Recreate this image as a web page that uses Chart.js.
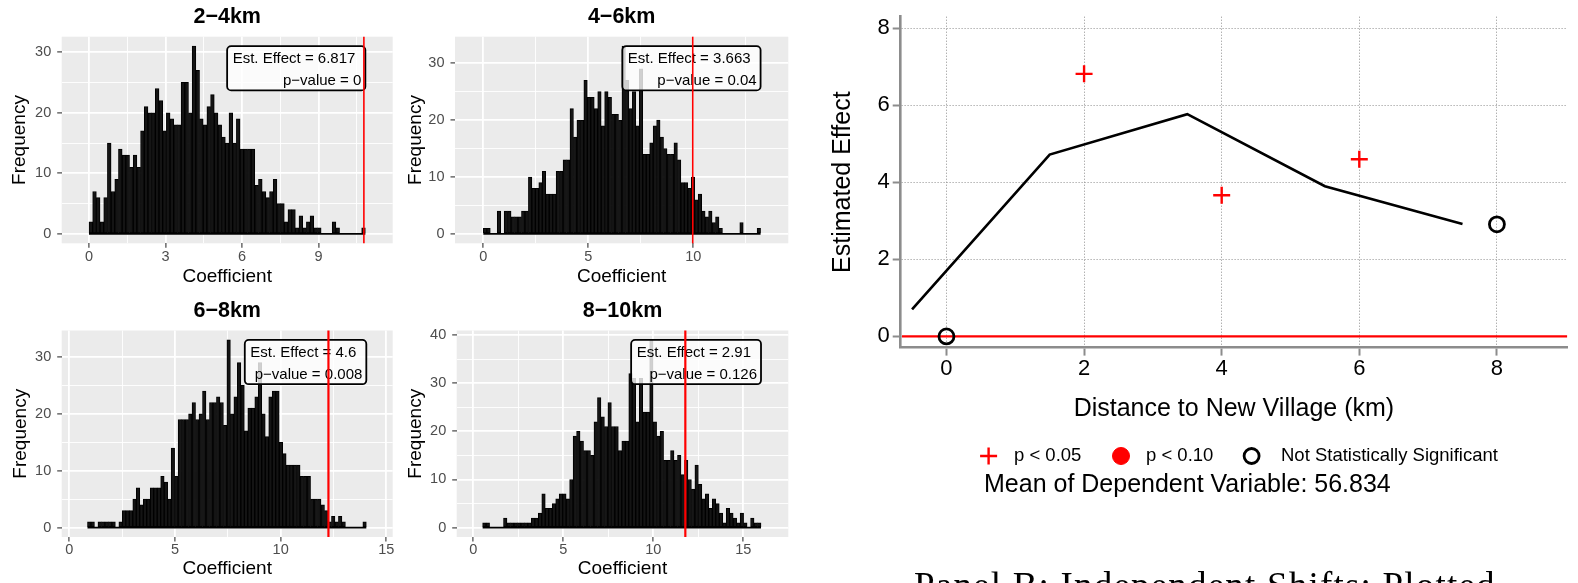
<!DOCTYPE html>
<html>
<head>
<meta charset="utf-8">
<script src="https://cdn.jsdelivr.net/npm/chart.js@4.4.1/dist/chart.umd.min.js"></script>
<style>
  html, body { margin: 0; padding: 0; background: #ffffff; }
  body { width: 1578px; height: 583px; position: relative; overflow: hidden; }
  canvas { position: absolute; }
  #caption {
    position: absolute; left: 914px; top: 567px; white-space: nowrap;
    font-family: "Liberation Serif", "Times New Roman", serif; font-size: 37px;
    line-height: 37px; letter-spacing: 1.2px; color: #000;
  }
</style>
</head>
<body>
<canvas id="hist1" width="395" height="290" style="left:0px;top:0px"></canvas>
<canvas id="hist2" width="397" height="290" style="left:393px;top:0px"></canvas>
<canvas id="hist3" width="395" height="293" style="left:0px;top:290px"></canvas>
<canvas id="hist4" width="395" height="293" style="left:395px;top:290px"></canvas>
<canvas id="effects" width="778" height="583" style="left:800px;top:0px"></canvas>
<div id="caption">Panel B: Independent Shifts: Plotted</div>

<script>
// ---- Randomization-inference histograms (one per distance band) ----
const bandTitles = ['2\u22124km', '4\u22126km', '6\u22128km', '8\u221210km'];

const counts_2_4km = [2,7,6,2,6, 15,7,9,14,13,13,11,13,11,17,21,20,
  20,24,22,17,20,19,18,18,25,25,20,31,
  27,19,18,21,23,20,18,16,15,20,15,19,14,14,14,14,
  8,9,7,6,7,9,5,5,2,4,4,1,3,1,2,3,1,1,
  0,0,0,2,1,0,0,0,0,0,0,1];
const counts_4_6km = [1,1,0,0,4,0,4,4,3,3, 3,4,4,10,8,8,9,11,7,7,
  7,11,11,13,13,22,17,20,20,27, 24,24,22,25,19,25,24,21,21,20,
  33,27,22,25,19,29,14,14,16,19, 20,17,15,14,14,16,13,9,9,8,
  10,6,7,4,3,4,2,3,1,0, 0,0,0,0,2,0,0,0,0,1];
const counts_6_8km = [1,1,0,1,1,1,1,1,0,1, 3,3,3,5,7,4,5,5,7,7,
  7,9,8,5,14,9,19,19,19,20, 22,19,20,24,19,22,22,23,22,18,
  33,20,23,29,25,17,21,21,23,29, 20,16,23,24,24,15,13,11,11,11,
  11,9,9,9,5,5,5,4,3,1, 2,1,2,1,0,0,0,0,0,1];
const counts_8_10km = [1,1,0,0,0,0,2,1,1,1, 1,1,1,1,2,2,3,7,4,4,
  5,6,7,7,6,10,19,20,18,16, 16,15,22,27,23,21,26,21,21,16,18,18,
  32,31,22,31,24,24,39,22,19,20, 14,14,16,14,15,11,14,10,8,13,
  9,6,7,4,6,5,3,1,4,3, 2,1,3,1,0,2,1,1];

const binStart = [0, 0, 0.86, 0.52];
const binWidth = [0.1445, 0.165, 0.1649, 0.1933];
const observedCoef = [10.78, 9.97, 12.26, 11.78];
const estEffect = [6.817, 3.663, 4.6, 2.91];
const pValue = [0, 0.04, 0.008, 0.126];

const xMajorTicks = [[0,3,6,9], [0,5,10], [0,5,10,15], [0,5,10,15]];
const xMinorTicks = [[1.5,4.5,7.5,10.5], [2.5,7.5,12.5], [2.5,7.5,12.5], [2.5,7.5,12.5]];
const yMajorTicks = [[0,10,20,30], [0,10,20,30], [0,10,20,30], [0,10,20,30,40]];
const yMinorTicks = [[5,15,25], [5,15,25], [5,15,25], [5,15,25,35]];

// ---- Estimated effect by distance band ----
const distanceTicks = [0, 2, 4, 6, 8];
const effectTicks = [0, 2, 4, 6, 8];
const bandCenter = [0, 2, 4, 6, 8];
const bandEffect = [0, 6.817, 3.663, 4.6, 2.91];
const bandP = [null, 0, 0.04, 0.008, 0.126];
const smoothX = [-0.5, 1.5, 3.5, 5.5, 7.5];
const smoothY = [0.7, 4.72, 5.77, 3.9, 2.92];
const meanDependent = '56.834';

const FONT = '"Liberation Sans", Arial, Helvetica, sans-serif';
Chart.defaults.font.family = FONT;
Chart.defaults.animation = false;

const countsByBand = [counts_2_4km, counts_4_6km, counts_6_8km, counts_8_10km];

// layout of each histogram canvas: axis box sizes and scale windows
const histLayout = [
  { top: 36.7, right: 2.3, yAxisW: 61.7, xAxisH: 46.7, xr: [-1.07, 11.91], yr: [-1.55, 32.55], yTitlePad: 8.6, xTitlePad: 1.6 },
  { top: 36.7, right: 1.7, yAxisW: 62.0, xAxisH: 46.7, xr: [-1.35, 14.52], yr: [-1.65, 34.65], yTitlePad: 10.9, xTitlePad: 1.6 },
  { top: 40.5, right: 2.3, yAxisW: 61.7, xAxisH: 46.0, xr: [-0.36, 15.30], yr: [-1.65, 34.65], yTitlePad: 8.9, xTitlePad: 2.6 },
  { top: 40.5, right: 1.7, yAxisW: 61.7, xAxisH: 46.0, xr: [-0.92, 17.50], yr: [-1.95, 40.95], yTitlePad: 8.9, xTitlePad: 2.6 }
];

function roundRectPath(ctx, x, y, w, h, r) {
  ctx.beginPath();
  ctx.moveTo(x + r, y);
  ctx.lineTo(x + w - r, y);
  ctx.arcTo(x + w, y, x + w, y + r, r);
  ctx.lineTo(x + w, y + h - r);
  ctx.arcTo(x + w, y + h, x + w - r, y + h, r);
  ctx.lineTo(x + r, y + h);
  ctx.arcTo(x, y + h, x, y + h - r, r);
  ctx.lineTo(x, y + r);
  ctx.arcTo(x, y, x + r, y, r);
  ctx.closePath();
}

function histPanelPlugin(k) {
  const counts = countsByBand[k];
  return {
    id: 'histPanel' + k,
    beforeDraw(chart) {
      const { ctx, chartArea: a } = chart;
      ctx.save();
      ctx.fillStyle = '#EBEBEB';
      ctx.fillRect(a.left, a.top, a.right - a.left, a.bottom - a.top);
      ctx.restore();
    },
    afterDatasetsDraw(chart) {
      const { ctx, chartArea: a, scales: { x, y } } = chart;
      const endVal = binStart[k] + counts.length * binWidth[k];
      const x0 = x.getPixelForValue(binStart[k]);
      const x1 = x.getPixelForValue(endVal);
      const yb = y.getPixelForValue(0);
      ctx.save();
      // empty bins keep their outline along the baseline
      ctx.strokeStyle = '#000';
      ctx.lineWidth = 1.6;
      ctx.beginPath(); ctx.moveTo(x0, yb); ctx.lineTo(x1, yb); ctx.stroke();

      // estimate label, anchored at the right end of the bins and the tallest bin
      ctx.font = '15px ' + FONT;
      const l1 = 'Est. Effect = ' + estEffect[k];
      const l2 = 'p\u2212value = ' + pValue[k];
      const w1 = ctx.measureText(l1).width;
      const w2 = ctx.measureText(l2).width;
      const right = x1;
      const top = y.getPixelForValue(Math.max(...counts));
      const left = right - Math.max(w1 + 10, w2 + 4) - 5.5;
      const h = 44.3;
      roundRectPath(ctx, left, top, right - left, h, 4);
      ctx.fillStyle = 'rgba(255,255,255,0.8)';
      ctx.fill();
      ctx.strokeStyle = '#000';
      ctx.lineWidth = 1.8;
      ctx.stroke();
      ctx.fillStyle = '#000';
      ctx.textAlign = 'right';
      ctx.textBaseline = 'middle';
      ctx.fillText(l1, right - 10, top + 13);
      ctx.fillText(l2, right - 4, top + 35);

      // observed coefficient
      const xr = x.getPixelForValue(observedCoef[k]);
      ctx.strokeStyle = '#FF0000';
      ctx.lineWidth = k >= 2 ? 2.2 : 1.6;
      ctx.beginPath(); ctx.moveTo(xr, a.top); ctx.lineTo(xr, a.bottom); ctx.stroke();
      ctx.restore();
    },
    afterDraw(chart) {
      const { ctx, chartArea: a } = chart;
      ctx.save();
      ctx.font = 'bold 21.5px ' + FONT;
      ctx.fillStyle = '#000';
      ctx.textAlign = 'center';
      ctx.textBaseline = 'middle';
      ctx.fillText(bandTitles[k], (a.left + a.right) / 2, a.top - 19.5);
      ctx.restore();
    }
  };
}

function makeHistogram(canvasId, k) {
  const L = histLayout[k];
  const counts = countsByBand[k];
  const xMajor = new Set(xMajorTicks[k]);
  const yMajor = new Set(yMajorTicks[k]);
  const xAll = [...xMajorTicks[k], ...xMinorTicks[k]].sort((a, b) => a - b);
  const yAll = [...yMajorTicks[k], ...yMinorTicks[k]].sort((a, b) => a - b);
  const isMaj = (set, c) => c.tick && set.has(c.tick.value);

  return new Chart(document.getElementById(canvasId), {
    type: 'bar',
    data: {
      datasets: [{
        data: counts.map((c, i) => ({ x: binStart[k] + (i + 0.5) * binWidth[k], y: c })),
        backgroundColor: '#141414',
        borderColor: '#000000',
        borderWidth: 1,
        borderSkipped: false,
        barPercentage: 1,
        categoryPercentage: 1
      }]
    },
    options: {
      responsive: false,
      devicePixelRatio: 1,
      events: [],
      layout: { padding: { top: L.top, right: L.right, left: 0, bottom: 0 } },
      plugins: { legend: { display: false }, tooltip: { enabled: false }, title: { display: false } },
      scales: {
        x: {
          type: 'linear', position: 'bottom', min: L.xr[0], max: L.xr[1], offset: false,
          afterBuildTicks: s => { s.ticks = xAll.map(v => ({ value: v })); },
          afterFit: s => { s.height = L.xAxisH; s.paddingLeft = 0; s.paddingRight = 0; },
          grid: {
            offset: false, color: '#FFFFFF',
            lineWidth: c => isMaj(xMajor, c) ? 1.8 : 0.9,
            drawTicks: true, tickLength: 4.5, tickWidth: 1.1,
            tickColor: c => isMaj(xMajor, c) ? '#333333' : 'rgba(0,0,0,0)'
          },
          border: { display: false },
          ticks: {
            autoSkip: false, maxRotation: 0, padding: 0, color: '#4D4D4D', font: { size: 14.5 },
            callback: v => xMajor.has(v) ? String(v) : ''
          },
          title: { display: true, text: 'Coefficient', color: '#000', font: { size: 19 }, padding: { top: 0, bottom: L.xTitlePad } }
        },
        y: {
          type: 'linear', position: 'left', min: L.yr[0], max: L.yr[1],
          afterBuildTicks: s => { s.ticks = yAll.map(v => ({ value: v })); },
          afterFit: s => { s.width = L.yAxisW; s.paddingTop = 0; s.paddingBottom = 0; },
          grid: {
            color: '#FFFFFF',
            lineWidth: c => isMaj(yMajor, c) ? 1.8 : 0.9,
            drawTicks: true, tickLength: 4.5, tickWidth: 1.1,
            tickColor: c => isMaj(yMajor, c) ? '#333333' : 'rgba(0,0,0,0)'
          },
          border: { display: false },
          ticks: {
            autoSkip: false, padding: 6, color: '#4D4D4D', font: { size: 14.5 },
            callback: v => yMajor.has(v) ? String(v) : ''
          },
          title: { display: true, text: 'Frequency', color: '#000', font: { size: 19 }, padding: { top: L.yTitlePad, bottom: 0 } }
        }
      }
    },
    plugins: [histPanelPlugin(k)]
  });
}

makeHistogram('hist1', 0);
makeHistogram('hist2', 1);
makeHistogram('hist3', 2);
makeHistogram('hist4', 3);

// ---- Estimated effect by distance ----
const sigIdx = [], marginalIdx = [], insigIdx = [];
bandCenter.forEach((d, i) => {
  const p = bandP[i];
  if (p !== null && p < 0.05) sigIdx.push(i);
  else if (p !== null && p < 0.10) marginalIdx.push(i);
  else insigIdx.push(i);
});
const ptsOf = idx => idx.map(i => ({ x: bandCenter[i], y: bandEffect[i] }));

const effectsPlugin = {
  id: 'effectsExtras',
  beforeDatasetsDraw(chart) {
    const { ctx, chartArea: a, scales: { y } } = chart;
    const y0 = y.getPixelForValue(0);
    ctx.save();
    ctx.strokeStyle = '#FF0000';
    ctx.lineWidth = 2.2;
    ctx.beginPath(); ctx.moveTo(a.left + 1.3, y0); ctx.lineTo(a.right, y0); ctx.stroke();
    ctx.restore();
  },
  afterDraw(chart) {
    const { ctx } = chart;
    const ds = chart.data.datasets;
    const yl = 456;
    const items = [
      { d: ds[1], mx: 188.6, tx: 214 },
      { d: ds[2], mx: 321, tx: 346 },
      { d: ds[3], mx: 451.6, tx: 481 }
    ];
    ctx.save();
    items.forEach(it => {
      ctx.save();
      ctx.strokeStyle = it.d.borderColor;
      ctx.fillStyle = it.d.backgroundColor;
      ctx.lineWidth = it.d.borderWidth;
      Chart.helpers.drawPoint(ctx, {
        pointStyle: it.d.pointStyle, radius: it.d.pointRadius,
        borderWidth: it.d.borderWidth, rotation: 0
      }, it.mx, yl);
      ctx.restore();
      ctx.font = '18.5px ' + FONT;
      ctx.fillStyle = '#000';
      ctx.textAlign = 'left';
      ctx.textBaseline = 'middle';
      ctx.fillText(it.d.label, it.tx, yl);
    });
    ctx.font = '25px ' + FONT;
    ctx.fillStyle = '#000';
    ctx.textAlign = 'left';
    ctx.textBaseline = 'middle';
    ctx.fillText('Mean of Dependent Variable: ' + meanDependent, 184, 485);
    ctx.restore();
  }
};

new Chart(document.getElementById('effects'), {
  type: 'scatter',
  data: {
    datasets: [
      {
        label: 'Smoothed', data: smoothX.map((x, i) => ({ x, y: smoothY[i] })),
        showLine: true, borderColor: '#000', borderWidth: 2.6, pointRadius: 0, tension: 0, fill: false
      },
      {
        label: 'p < 0.05', data: ptsOf(sigIdx), pointStyle: 'cross', pointRadius: 8.5,
        borderColor: '#FF0000', backgroundColor: '#FF0000', borderWidth: 2.4
      },
      {
        label: 'p < 0.10', data: ptsOf(marginalIdx), pointStyle: 'circle', pointRadius: 8.5,
        borderColor: '#FF0000', backgroundColor: '#FF0000', borderWidth: 1
      },
      {
        label: 'Not Statistically Significant', data: ptsOf(insigIdx), pointStyle: 'circle', pointRadius: 7.5,
        borderColor: '#000', backgroundColor: 'rgba(0,0,0,0)', borderWidth: 2.8
      }
    ]
  },
  options: {
    responsive: false,
    devicePixelRatio: 1,
    events: [],
    layout: { padding: { top: 16.7, right: 0, left: 0, bottom: 0 } },
    plugins: { legend: { display: false }, tooltip: { enabled: false } },
    scales: {
      x: {
        type: 'linear', position: 'bottom', min: -0.665, max: 9.02,
        afterBuildTicks: s => { s.ticks = distanceTicks.map(v => ({ value: v })); },
        afterFit: s => { s.height = 235.4; s.paddingLeft = 0; s.paddingRight = 0; },
        grid: { color: '#8E8E8E', lineWidth: 1, tickColor: '#8C8C8C', tickWidth: 2, tickLength: 8 },
        border: { display: true, color: '#8C8C8C', width: 2.6, dash: [1, 2] },
        ticks: { color: '#000', font: { size: 22 }, padding: 0, autoSkip: false, maxRotation: 0 },
        title: { display: true, text: 'Distance to New Village (km)', color: '#000', font: { size: 25 }, padding: { top: 0, bottom: 159 } }
      },
      y: {
        type: 'linear', position: 'left', min: -0.29, max: 8.30,
        afterBuildTicks: s => { s.ticks = effectTicks.map(v => ({ value: v })); },
        afterFit: s => { s.width = 100.7; s.paddingTop = 0; s.paddingBottom = 0; },
        grid: { color: '#8E8E8E', lineWidth: 1, tickColor: '#8C8C8C', tickWidth: 2, tickLength: 8 },
        border: { display: true, color: '#8C8C8C', width: 2.6, dash: [1, 2] },
        ticks: { color: '#000', font: { size: 22 }, padding: 3, autoSkip: false },
        title: { display: true, text: 'Estimated Effect', color: '#000', font: { size: 25 }, padding: { top: 27.7, bottom: 0 } }
      }
    }
  },
  plugins: [effectsPlugin]
});
</script>
</body>
</html>
